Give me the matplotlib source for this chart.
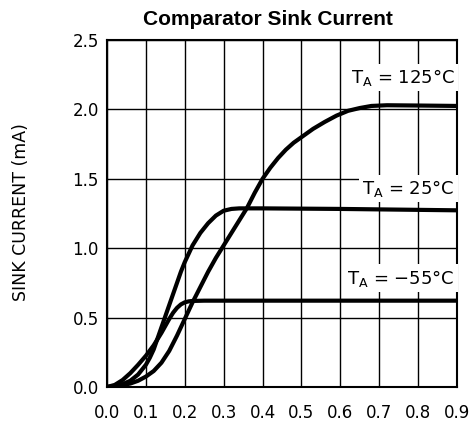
import numpy as np
import matplotlib
matplotlib.use("Agg")
import matplotlib.pyplot as plt

# curve values (sink current in mA vs V_OL)
x_m55 = [0.0, 0.02, 0.04, 0.06, 0.08, 0.10, 0.12, 0.14, 0.15, 0.16, 0.17, 0.18, 0.19, 0.20,
         0.21, 0.22, 0.25, 0.50, 0.90]
y_m55 = [0.0, 0.015, 0.05, 0.10, 0.16, 0.225, 0.30, 0.39, 0.44, 0.49, 0.535, 0.57, 0.595, 0.61,
         0.617, 0.62, 0.622, 0.622, 0.622]

x_25 = [0.0, 0.02, 0.04, 0.06, 0.08, 0.10, 0.11, 0.12, 0.13, 0.14, 0.15, 0.16, 0.17, 0.18,
        0.19, 0.20, 0.21, 0.22, 0.24, 0.26, 0.28, 0.30, 0.32, 0.34, 0.40, 0.60, 0.90]
y_25 = [0.0, 0.005, 0.02, 0.045, 0.09, 0.16, 0.21, 0.27, 0.35, 0.43, 0.51, 0.59, 0.67, 0.75,
        0.83, 0.90, 0.96, 1.02, 1.11, 1.18, 1.235, 1.27, 1.283, 1.287, 1.287, 1.283, 1.273]

x_125 = [0.0, 0.03, 0.06, 0.08, 0.10, 0.12, 0.14, 0.16, 0.18, 0.20, 0.22, 0.24, 0.26, 0.28,
         0.30, 0.32, 0.34, 0.36, 0.38, 0.40, 0.42, 0.44, 0.46, 0.48, 0.50, 0.53, 0.56, 0.59,
         0.62, 0.65, 0.68, 0.72, 0.80, 0.90]
y_125 = [0.0, 0.008, 0.025, 0.045, 0.075, 0.115, 0.175, 0.26, 0.37, 0.49, 0.61, 0.72, 0.83, 0.93,
         1.02, 1.11, 1.20, 1.29, 1.40, 1.50, 1.58, 1.65, 1.71, 1.76, 1.80, 1.86, 1.91, 1.955,
         1.99, 2.01, 2.025, 2.03, 2.028, 2.025]

x_ticks = [0.0, 0.1, 0.2, 0.3, 0.4, 0.5, 0.6, 0.7, 0.8, 0.9]
y_ticks = [0.0, 0.5, 1.0, 1.5, 2.0, 2.5]

labels = ["T$_\\mathregular{A}$ = 125°C", "T$_\\mathregular{A}$ = 25°C", "T$_\\mathregular{A}$ = −55°C"]
label_y = [2.23, 1.43, 0.785]

fig = plt.figure(figsize=(4.77, 4.23), dpi=100)
ax = fig.add_axes([0.2243, 0.0851, 0.7338, 0.8203])

for xs, ys in [(x_m55, y_m55), (x_25, y_25), (x_125, y_125)]:
    ax.plot(xs, ys, color="black", lw=3.0, solid_capstyle="butt", solid_joinstyle="round", zorder=3)

ax.set_xlim(0, 0.9)
ax.set_ylim(0, 2.5)
ax.set_xticks(x_ticks)
ax.set_yticks(y_ticks)
ax.set_xticklabels([f"{v:.1f}" for v in x_ticks])
ax.set_yticklabels([f"{v:.1f}" for v in y_ticks])
ax.tick_params(length=0, labelsize=12)
ax.tick_params(axis="x", pad=12)
ax.tick_params(axis="y", pad=6)
ax.grid(True, color="black", lw=1.0)
for s in ax.spines.values():
    s.set_linewidth(1.5)

for lab, yy in zip(labels, label_y):
    ax.text(0.893, yy, lab, ha="right", va="center", fontsize=13, zorder=4,
            bbox=dict(facecolor="white", edgecolor="none", pad=2.5))

fig.text(0.562, 0.953, "Comparator Sink Current", ha="center", va="center",
         fontsize=15, fontweight="bold", family="Liberation Sans")
fig.text(0.044, 0.499, "SINK CURRENT (mA)", rotation=90, ha="center", va="center", fontsize=12.5)

fig.savefig("out.png", dpi=100)
